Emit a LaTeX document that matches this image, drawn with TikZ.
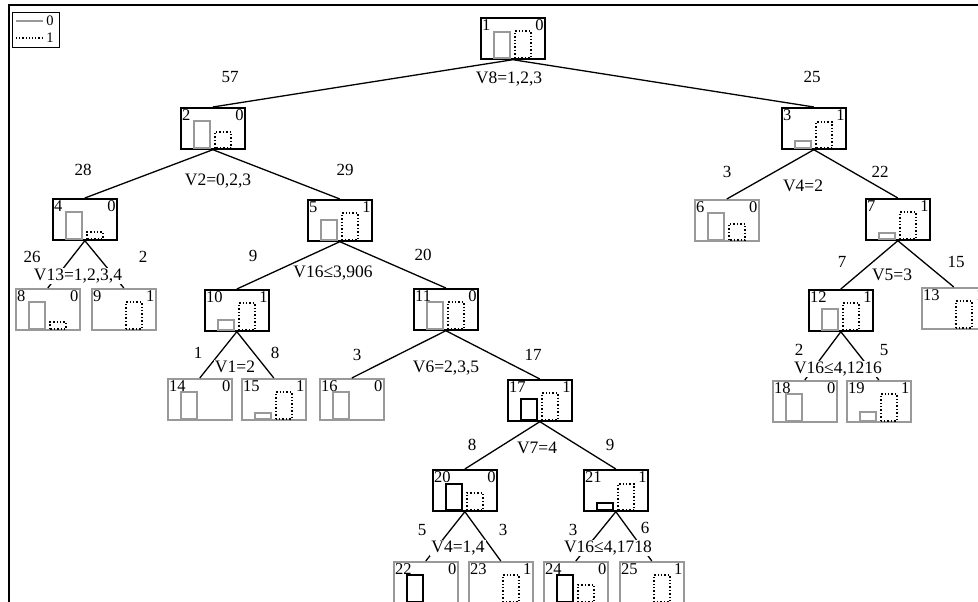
\documentclass[tikz,border=0pt]{standalone}
\usepackage{fontspec}
\setmainfont{Liberation Serif}
\usetikzlibrary{calc}
\definecolor{lg}{gray}{0.6}
\tikzset{
 boxblack/.style={draw=black, line width=1.7pt, minimum width=64pt, minimum height=41pt, inner sep=0pt, anchor=north west},
 boxgray/.style={draw=lg, line width=1.6pt, minimum width=64pt, minimum height=41pt, inner sep=0pt, anchor=north west},
 idtxt/.style={font=\fontsize{16.5}{16.5}\selectfont, inner sep=1pt, anchor=north west},
 cltxt/.style={font=\fontsize{16.5}{16.5}\selectfont, inner sep=1pt, anchor=north east},
 cnt/.style={font=\fontsize{17}{17}\selectfont, inner sep=0pt},
 splitlbl/.style={font=\fontsize{17.5}{17.5}\selectfont, fill=white, inner sep=1pt},
 edgeline/.style={line width=1.3pt, draw=black},
 bargray/.style={draw=lg, line width=1.7pt},
 barblack/.style={draw=black, line width=1.7pt},
 bardot/.style={draw=black, line width=1.4pt, dotted},
}
% name, x0, y0, box style, id, class, bar1 style, h1, h2
\newcommand\tnode[9]{%
 \node[#4] (#1) at (#2,#3) {};
 \node[idtxt] (#1i) at ($(#1.north west)+(1,1)$) {#5};
 \node[cltxt] (#1c) at ($(#1.north east)+(-1,1)$) {#6};
 \ifnum#8>0 \draw[#7] ({#2+14},{#3+41}) rectangle ({#2+30},{#3+41-#8}); \fi
 \ifnum#9>0 \draw[bardot] ({#2+35},{#3+41}) rectangle ({#2+51},{#3+41-#9}); \fi
}
\begin{document}
\begin{tikzpicture}[x=1pt,y=-1pt]
\useasboundingbox (0,0) rectangle (978,602);
% frame
\draw[line width=1.2pt] (9,610) -- (9,5) -- (990,5);
% legend
\node[draw, line width=1.2pt, minimum width=47pt, minimum height=35pt, inner sep=0pt, anchor=north west] (leg) at (12,12) {};
\coordinate (la) at (16,21); \coordinate (lb) at (43,21);
\coordinate (lc) at (16,38); \coordinate (ld) at (43,38);
\draw[lg, line width=1.3pt] (la) -- (lb);
\draw[black, line width=1.2pt, dotted] (lc) -- (ld);
\node[font=\fontsize{14.5}{14.5}\selectfont, inner sep=0pt] (l0) at (50,21) {0};
\node[font=\fontsize{14.5}{14.5}\selectfont, inner sep=0pt] (l1) at (50,38) {1};
% nodes
\tnode{n1}{480}{17}{boxblack}{1}{0}{bargray}{26}{27}
\tnode{n2}{180}{107}{boxblack}{2}{0}{bargray}{27}{16}
\tnode{n3}{781}{107}{boxblack}{3}{1}{bargray}{7}{26}
\tnode{n4}{52}{198}{boxblack}{4}{0}{bargray}{27}{7}
\tnode{n5}{307}{199}{boxblack}{5}{1}{bargray}{20}{27}
\tnode{n6}{694}{199}{boxgray}{6}{0}{bargray}{27}{16}
\tnode{n7}{865}{198}{boxblack}{7}{1}{bargray}{6}{27}
\tnode{n8}{15}{288}{boxgray}{8}{0}{bargray}{27}{7}
\tnode{n9}{91}{288}{boxgray}{9}{1}{bargray}{0}{27}
\tnode{n10}{204}{289}{boxblack}{10}{1}{bargray}{10}{27}
\tnode{n11}{413}{288}{boxblack}{11}{0}{bargray}{27}{27}
\tnode{n12}{808}{289}{boxblack}{12}{1}{bargray}{21}{27}
\tnode{n13}{921}{287}{boxgray}{13}{1}{bargray}{0}{27}
\tnode{n14}{167}{378}{boxgray}{14}{0}{bargray}{27}{0}
\tnode{n15}{241}{378}{boxgray}{15}{1}{bargray}{6}{27}
\tnode{n16}{319}{378}{boxgray}{16}{0}{bargray}{27}{0}
\tnode{n17}{507}{379}{boxblack}{17}{1}{barblack}{21}{27}
\tnode{n18}{772}{380}{boxgray}{18}{0}{bargray}{27}{0}
\tnode{n19}{846}{380}{boxgray}{19}{1}{bargray}{9}{27}
\tnode{n20}{432}{469}{boxblack}{20}{0}{barblack}{26}{17}
\tnode{n21}{583}{469}{boxblack}{21}{1}{barblack}{7}{26}
\tnode{n22}{393}{561}{boxgray}{22}{0}{barblack}{27}{0}
\tnode{n23}{468}{561}{boxgray}{23}{1}{barblack}{0}{27}
\tnode{n24}{543}{561}{boxgray}{24}{0}{barblack}{27}{17}
\tnode{n25}{619}{561}{boxgray}{25}{1}{barblack}{0}{27}
% edges
\foreach \p/\c in {n1/n2,n1/n3,n2/n4,n2/n5,n3/n6,n3/n7,n4/n8,n4/n9,n5/n10,n5/n11,
  n7/n12,n7/n13,n10/n14,n10/n15,n11/n16,n11/n17,n12/n18,n12/n19,n17/n20,n17/n21,
  n20/n22,n20/n23,n21/n24,n21/n25}
  \draw[edgeline] (\p.south) -- (\c.north);
% split labels
\node[splitlbl] (s1) at (509,79) {V8=1,2,3};
\node[splitlbl] (s2) at (218,181) {V2=0,2,3};
\node[splitlbl] (s3) at (803,186) {V4=2};
\node[splitlbl] (s4) at (78,276) {V13=1,2,3,4};
\node[splitlbl] (s5) at (333,273) {V16≤3,906};
\node[splitlbl] (s7) at (892,275) {V5=3};
\node[splitlbl] (s10) at (235,367) {V1=2};
\node[splitlbl] (s11) at (446,368) {V6=2,3,5};
\node[splitlbl] (s12) at (838,369) {V16≤4,1216};
\node[splitlbl] (s17) at (537,448) {V7=4};
\node[splitlbl] (s20) at (458,548) {V4=1,4};
\node[splitlbl] (s21) at (608,548) {V16≤4,1718};
% counts
\node[cnt] (c1l) at (230,77) {57};
\node[cnt] (c1r) at (812,77) {25};
\node[cnt] (c2l) at (83,170) {28};
\node[cnt] (c2r) at (345,170) {29};
\node[cnt] (c3l) at (727,172) {3};
\node[cnt] (c3r) at (880,172) {22};
\node[cnt] (c4l) at (32,257) {26};
\node[cnt] (c4r) at (143,257) {2};
\node[cnt] (c5l) at (253,256) {9};
\node[cnt] (c5r) at (423,255) {20};
\node[cnt] (c7l) at (842,262) {7};
\node[cnt] (c7r) at (956,262) {15};
\node[cnt] (c10l) at (198,353) {1};
\node[cnt] (c10r) at (275,353) {8};
\node[cnt] (c11l) at (357,355) {3};
\node[cnt] (c11r) at (533,355) {17};
\node[cnt] (c12l) at (799,350) {2};
\node[cnt] (c12r) at (884,350) {5};
\node[cnt] (c17l) at (472,445) {8};
\node[cnt] (c17r) at (610,445) {9};
\node[cnt] (c20l) at (422,530) {5};
\node[cnt] (c20r) at (503,530) {3};
\node[cnt] (c21l) at (573,530) {3};
\node[cnt] (c21r) at (645,528) {6};
\end{tikzpicture}
\end{document}
